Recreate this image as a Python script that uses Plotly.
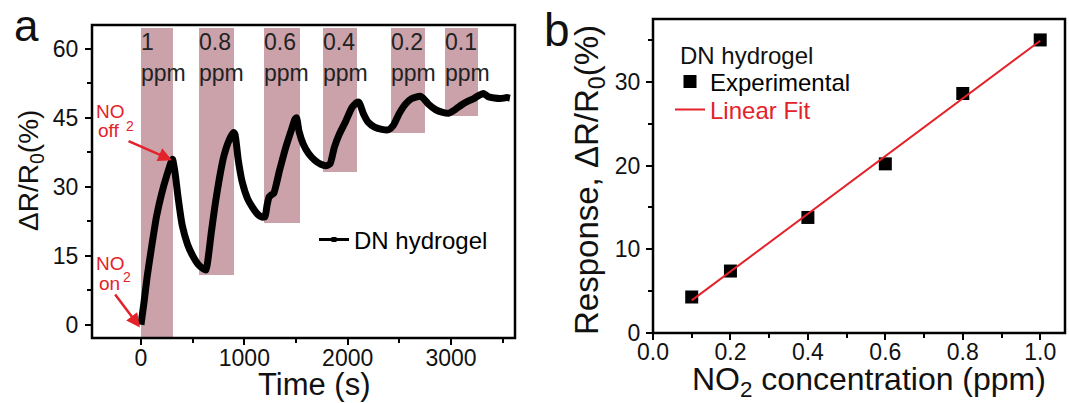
import plotly.graph_objects as go

# ---------------- Panel a data ----------------
time_s = [0, 30, 60, 100, 150, 200, 250, 290, 305,
          330, 360, 400, 450, 500, 550, 600, 630,
          650, 680, 720, 760, 800, 850, 895, 910,
          940, 980, 1030, 1080, 1130, 1170, 1200,
          1220, 1240, 1260, 1285, 1340, 1400, 1450, 1490, 1505,
          1530, 1570, 1620, 1680, 1740, 1790, 1830,
          1870, 1920, 1980, 2040, 2090, 2112,
          2150, 2200, 2260, 2330, 2395, 2440,
          2500, 2560, 2620, 2700, 2730,
          2780, 2850, 2920, 2975, 3040, 3100, 3160, 3220, 3270, 3314,
          3360, 3420, 3480, 3540, 3570]
response_pct = [0, 5, 10.5, 16.5, 23.5, 28.5, 32.5, 35.3, 36.0,
                33, 27.5, 21.5, 17.5, 15, 13.2, 12.2, 11.9,
                14.5, 20, 26.5, 32, 36.5, 40, 41.8, 41.4,
                36, 31, 27.5, 25.5, 24, 23.4, 23.5,
                26, 27.8, 28.2, 28.6, 33.5, 38.5, 42, 44.7, 45,
                42, 39.3, 37.3, 35.8, 34.9, 34.6, 35,
                38.5, 41.5, 44.2, 47.2, 48.4, 48.3,
                46, 44, 43, 42.5, 42.4, 43.3,
                46, 48, 49.2, 49.7, 49.3,
                48, 46.8, 46.2, 46.0, 46.8, 47.8, 48.6, 49.2, 49.9, 50.3,
                49.6, 49.3, 49.2, 49.4, 49.3]

pulse_start = [0, 565, 1190, 1760, 2420, 2945]
pulse_end = [305, 900, 1540, 2090, 2745, 3265]
pulse_bottom = [-3, 10.9, 22.1, 33.3, 41.7, 45.3]
pulse_top = 64.5
pulse_conc = ["1", "0.8", "0.6", "0.4", "0.2", "0.1"]

# ---------------- Panel b data ----------------
conc_ppm = [0.1, 0.2, 0.4, 0.6, 0.8, 1.0]
resp_exp = [4.3, 7.4, 13.8, 20.2, 28.6, 35.0]
fit_x = [0.1, 1.0]
fit_y = [3.9, 34.9]

FONT = "Liberation Sans, Arial, sans-serif"
RED = "#e3222a"
PINK = "rgb(203,162,170)"
W, H = 1069, 403

fig = go.Figure()

fig.add_trace(go.Bar(
    x=[(s + e) / 2 for s, e in zip(pulse_start, pulse_end)],
    width=[e - s for s, e in zip(pulse_start, pulse_end)],
    base=pulse_bottom,
    y=[pulse_top - b for b in pulse_bottom],
    marker=dict(color=PINK, line=dict(width=0)),
    showlegend=False, hoverinfo="skip", xaxis="x", yaxis="y"))

fig.add_trace(go.Scatter(
    x=time_s, y=response_pct, mode="lines",
    line=dict(color="black", width=7, shape="spline", smoothing=0.5),
    showlegend=False, xaxis="x", yaxis="y"))

fig.add_trace(go.Scatter(
    x=[None], y=[None], mode="lines+markers", name="DN hydrogel",
    line=dict(color="black", width=3),
    marker=dict(symbol="square", size=5, color="black"),
    legend="legend", xaxis="x", yaxis="y"))

fig.add_trace(go.Scatter(
    x=conc_ppm, y=resp_exp, mode="markers", name="Experimental",
    marker=dict(symbol="square", size=13, color="black"),
    legend="legend2", xaxis="x2", yaxis="y2"))
fig.add_trace(go.Scatter(
    x=fit_x, y=fit_y, mode="lines",
    name='<span style="color:%s">Linear Fit</span>' % RED,
    line=dict(color=RED, width=2),
    legend="legend3", xaxis="x2", yaxis="y2"))

axis_common = dict(showline=False, ticks="outside", ticklen=6, tickwidth=2, tickcolor="black",
                   showgrid=False, zeroline=False, automargin=False,
                   tickfont=dict(family=FONT, size=23, color="#111"))


def minor(dt):
    return dict(dtick=dt, tick0=0, ticklen=4, tickwidth=2, tickcolor="black",
                ticks="outside", showgrid=False)


def legend_at(x, y):
    return dict(x=x / W, y=1 - y / H, xanchor="left", yanchor="middle",
                bgcolor="rgba(0,0,0,0)", borderwidth=0,
                font=dict(family=FONT, size=24, color="black"))


fig.update_layout(
    template="none",
    width=W, height=H,
    margin=dict(l=0, r=0, t=0, b=0, autoexpand=False),
    paper_bgcolor="white", plot_bgcolor="white",
    font=dict(family=FONT, color="black"),
    bargap=0,
    xaxis=dict(domain=[92 / W, 515 / W], range=[-474, 3619],
               tickvals=[0, 1000, 2000, 3000], ticklabelstandoff=-7,
               minor=minor(500), anchor="y", **axis_common),
    yaxis=dict(domain=[1 - 338 / H, 1 - 25 / H], range=[-2.9, 65.2],
               tickvals=[0, 15, 30, 45, 60], ticklabelstandoff=2,
               minor=minor(7.5), anchor="x", **axis_common),
    xaxis2=dict(domain=[653 / W, 1065 / W], range=[0, 1.064],
                tickvals=[0, 0.2, 0.4, 0.6, 0.8, 1.0], ticktext=["0.0", "0.2", "0.4", "0.6", "0.8", "1.0"],
                ticklabelstandoff=-8, minor=minor(0.1), anchor="y2", **axis_common),
    yaxis2=dict(domain=[1 - 333 / H, 1 - 19 / H], range=[0, 37.5],
                tickvals=[0, 10, 20, 30], ticklabelstandoff=1,
                minor=minor(5), anchor="x2", **axis_common),
    legend=legend_at(314, 240),
    legend2=legend_at(670, 82),
    legend3=legend_at(670, 110),
)

# panel frames
for xr, yr in [("x domain", "y domain"), ("x2 domain", "y2 domain")]:
    fig.add_shape(type="rect", xref=xr, yref=yr, x0=0, x1=1, y0=0, y1=1,
                  line=dict(color="black", width=2.5), fillcolor="rgba(0,0,0,0)", layer="above")

ann = []
for s, c in zip(pulse_start, pulse_conc):
    ann.append(dict(x=s, y=61.6, xref="x", yref="y", text=c, showarrow=False,
                    xanchor="left", yanchor="middle", xshift=-2,
                    font=dict(family=FONT, size=23, color="#222")))
    ann.append(dict(x=s, y=54.7, xref="x", yref="y", text="ppm", showarrow=False,
                    xanchor="left", yanchor="middle", xshift=-2,
                    font=dict(family=FONT, size=23, color="#222")))

red_font = dict(family=FONT, size=19, color=RED)
sub_font = dict(family=FONT, size=14, color=RED)
ann += [
    dict(x=-445, y=46.3, xref="x", yref="y", text="NO", showarrow=False, xanchor="left", yanchor="middle",
         borderpad=0, font=red_font),
    dict(x=-426, y=42.2, xref="x", yref="y", text="off", showarrow=False, xanchor="left", yanchor="middle",
         borderpad=0, font=red_font),
    dict(x=-105, y=43.2, xref="x", yref="y", text="2", showarrow=False, borderpad=0, font=sub_font),
    dict(x=300, y=35.8, ax=-135, ay=40.1, xref="x", yref="y", axref="x", ayref="y", text="",
         showarrow=True, arrowhead=2, arrowsize=1.1, arrowwidth=2.5, arrowcolor=RED),
    dict(x=-445, y=13.3, xref="x", yref="y", text="NO", showarrow=False, xanchor="left", yanchor="middle",
         borderpad=0, font=red_font),
    dict(x=-420, y=9.0, xref="x", yref="y", text="on", showarrow=False, xanchor="left", yanchor="middle",
         borderpad=0, font=red_font),
    dict(x=-140, y=10.4, xref="x", yref="y", text="2", showarrow=False, borderpad=0, font=sub_font),
    dict(x=-10, y=-0.6, ax=-261, ay=6.9, xref="x", yref="y", axref="x", ayref="y", text="",
         showarrow=True, arrowhead=2, arrowsize=1.1, arrowwidth=2.5, arrowcolor=RED),
]


def paper_text(x, y, text, size, angle=0, anchor="center", yanchor="middle"):
    return dict(x=x / W, y=1 - y / H, xref="paper", yref="paper", text=text,
                textangle=angle, showarrow=False, xanchor=anchor, yanchor=yanchor,
                borderpad=0, font=dict(family=FONT, size=size, color="#111"))


ann += [
    paper_text(30, 171, "ΔR/R<sub>0</sub>(%)", 28, -90),
    paper_text(315, 403, "Time (s)", 31, yanchor="bottom"),
    paper_text(26, 26, "a", 44),
    paper_text(557, 30, "b", 46),
    paper_text(589, 180, "Response, ΔR/R<sub>0</sub>(%)", 33, -90),
    paper_text(869, 403, "NO<sub>2</sub> concentration (ppm)", 32, yanchor="bottom"),
    paper_text(679, 55, "DN hydrogel", 24, anchor="left"),
]
fig.update_layout(annotations=ann)

fig.write_html("out.html", config={"displayModeBar": False},
               post_script="document.body.style.margin='0';")
